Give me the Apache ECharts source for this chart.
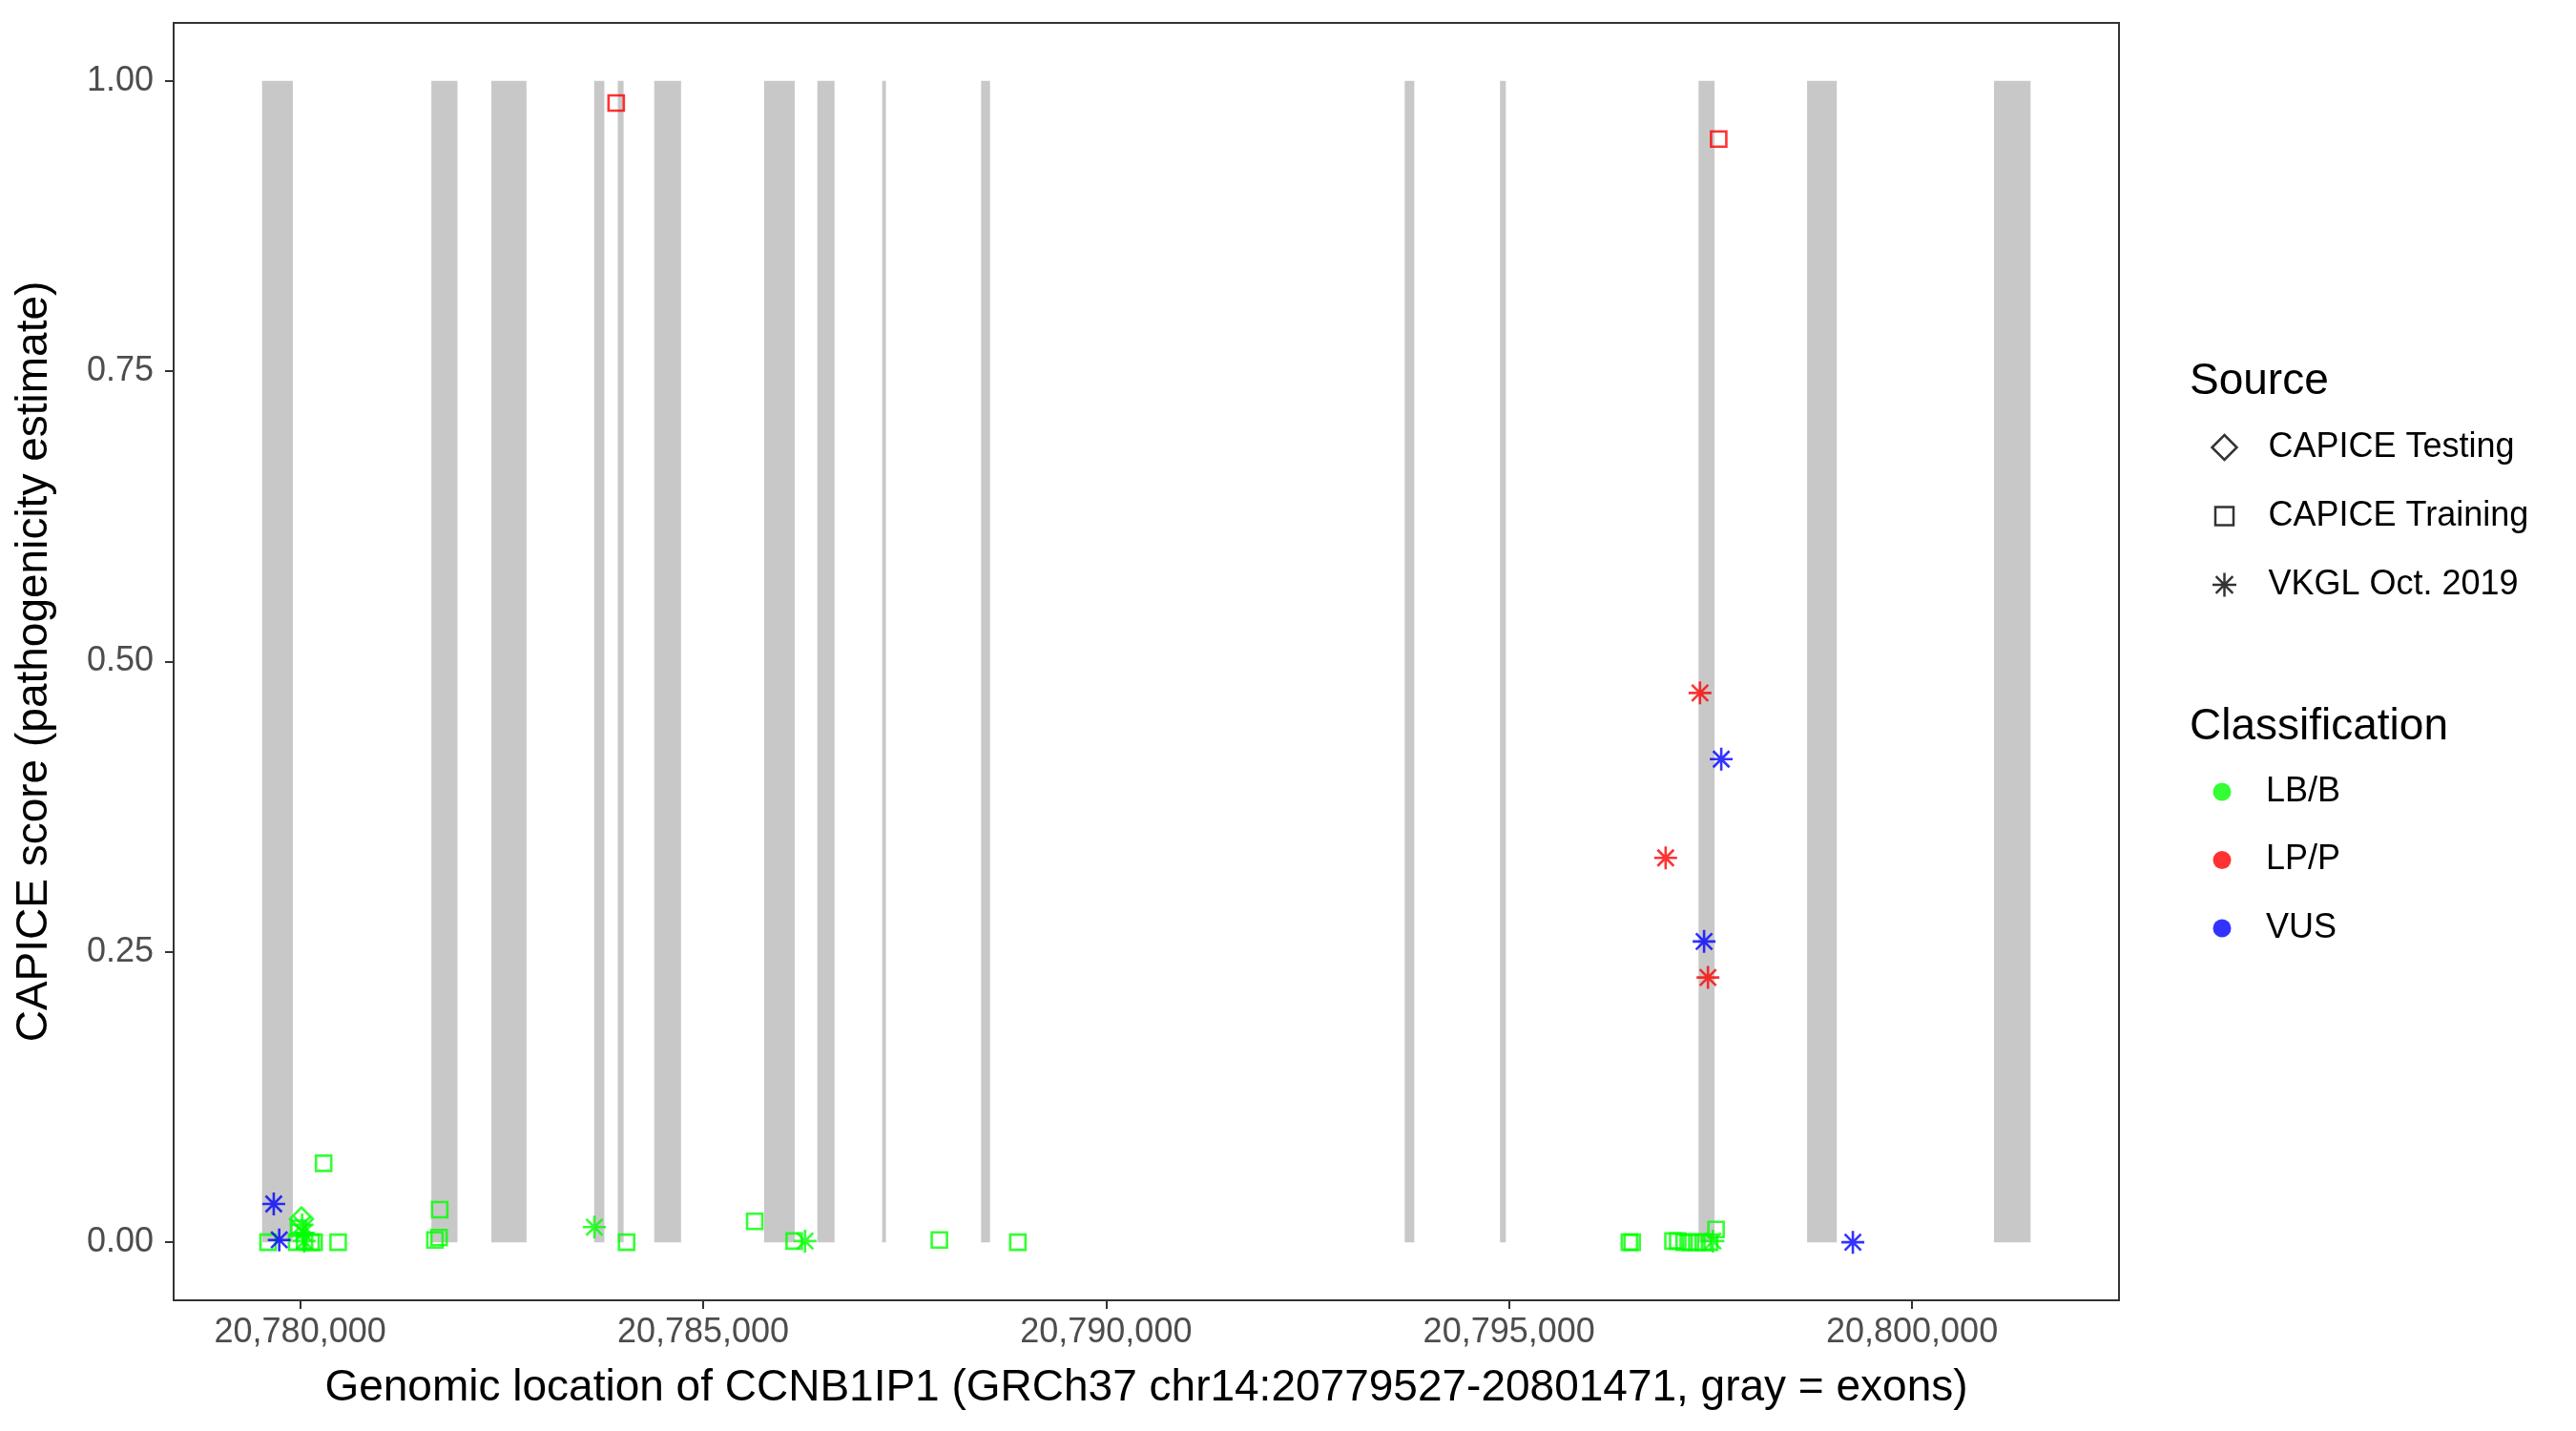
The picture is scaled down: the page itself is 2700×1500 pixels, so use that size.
<!DOCTYPE html>
<html><head><meta charset="utf-8">
<script src="https://cdn.jsdelivr.net/npm/echarts@6/dist/echarts.min.js"></script>
<style>html,body{margin:0;padding:0;background:#fff}#c{width:2700px;height:1500px}</style>
</head><body><div id="c"></div>
<script>
// ---- gene / exons ----
const geneStart = 20779527, geneEnd = 20801471;
const exonStart = [20779527, 20781628, 20782372, 20783648, 20783941, 20784393, 20785756, 20786417, 20787221, 20788449, 20793705, 20794888, 20797351, 20798698, 20801017];
const exonEnd   = [20779909, 20781952, 20782808, 20783774, 20784013, 20784726, 20786136, 20786630, 20787268, 20788560, 20793824, 20794960, 20797550, 20799066, 20801471];

// ---- CAPICE Testing (diamonds) ----
const testingPos   = [20780015];
const testingScore = [0.020];
const testingClass = ['LB/B'];

// ---- CAPICE Training (squares) ----
const trainingPos   = [20779601, 20780291, 20779956, 20779980, 20780054, 20780134, 20780173, 20780471, 20781672, 20781723, 20781731, 20784050, 20785640, 20786129, 20787931, 20788905, 20796493, 20796527, 20797034, 20797093, 20797172, 20797251, 20797330, 20797409, 20797488, 20797568, 20783921, 20797601];
const trainingScore = [0.000, 0.068, 0.000, 0.012, 0.001, 0.000, 0.000, 0.000, 0.002, 0.004, 0.028, 0.000, 0.018, 0.001, 0.002, 0.000, 0.000, 0.000, 0.001, 0.001, 0.000, 0.000, 0.000, 0.000, 0.000, 0.011, 0.981, 0.950];
const trainingClass = ['LB/B','LB/B','LB/B','LB/B','LB/B','LB/B','LB/B','LB/B','LB/B','LB/B','LB/B','LB/B','LB/B','LB/B','LB/B','LB/B','LB/B','LB/B','LB/B','LB/B','LB/B','LB/B','LB/B','LB/B','LB/B','LB/B','LP/P','LP/P'];

// ---- VKGL Oct. 2019 (asterisks) ----
const vkglPos   = [20780024, 20780039, 20780051, 20783651, 20786265, 20797529, 20797369, 20796943, 20797468, 20779672, 20779740, 20797633, 20797420, 20799266];
const vkglScore = [0.015, 0.008, 0.001, 0.013, 0.001, 0.001, 0.473, 0.331, 0.228, 0.033, 0.002, 0.416, 0.259, 0.000];
const vkglClass = ['LB/B','LB/B','LB/B','LB/B','LB/B','LB/B','LP/P','LP/P','LP/P','VUS','VUS','VUS','VUS','VUS'];

// ---- legends / ticks ----
const sourceNames = ['CAPICE Testing', 'CAPICE Training', 'VKGL Oct. 2019'];
const classNames  = ['LB/B', 'LP/P', 'VUS'];
const classColors = ['#00FF00', '#FF0000', '#0000FF'];
const xTicks = [20780000, 20785000, 20790000, 20795000, 20800000];
const yTicks = [0, 0.25, 0.5, 0.75, 1];

const FONT = '"Liberation Sans", Arial, Helvetica, sans-serif';
const colorOf = c => classColors[classNames.indexOf(c)];
const span = geneEnd - geneStart;
const xMin = geneStart - span * 0.05, xMax = geneEnd + span * 0.05;

const asteriskPath = 'path://M12,0L12,24M0,12L24,12M3.5,3.5L20.5,20.5M20.5,3.5L3.5,20.5';
const diamondPath  = 'path://M13,0L26,13L13,26L0,13Z';
const squarePath   = 'path://M0,0L18,0L18,18L0,18Z';

function makeData(pos, score, cls) {
  return pos.map((p, i) => ({ value: [p, score[i]], itemStyle: { borderColor: colorOf(cls[i]) } }));
}

const chart = echarts.init(document.getElementById('c'), null, { renderer: 'canvas' });

const baseScatter = {
  type: 'scatter', z: 3, animation: false,
  emphasis: { disabled: true },
  itemStyle: { color: 'none', borderWidth: 2.6 }
};

const ICON_CX = 2329;
const legendCommon = {
  orient: 'vertical', padding: 0, itemWidth: 82, selectedMode: false,
  textStyle: { fontSize: 36, color: '#000', fontFamily: FONT, lineHeight: 36 }
};
function mkLegend(top, size, extra) {
  return Object.assign({}, legendCommon, { top: top, itemHeight: size, left: ICON_CX - size / 2 }, extra);
}

const option = {
  backgroundColor: '#fff',
  animation: false,
  textStyle: { fontFamily: FONT },
  title: [
    { text: 'Source', left: 2295, top: 377, padding: 0, textStyle: { fontSize: 46, fontWeight: 'normal', color: '#000', fontFamily: FONT } },
    { text: 'Classification', left: 2295, top: 739, padding: 0, textStyle: { fontSize: 46, fontWeight: 'normal', color: '#000', fontFamily: FONT } }
  ],
  legend: [
    mkLegend(451, 26, { data: [{ name: sourceNames[0], icon: diamondPath, itemStyle: { color: 'none', borderColor: '#000', borderWidth: 2.5 } }] }),
    mkLegend(523, 19, { data: [{ name: sourceNames[1], icon: squarePath, itemStyle: { color: 'none', borderColor: '#000', borderWidth: 2.5 } }] }),
    mkLegend(595, 25, { data: [{ name: sourceNames[2], icon: asteriskPath, itemStyle: { color: 'none', borderColor: '#000', borderWidth: 2.5 } }] }),
    mkLegend(812, 19, { itemGap: 35.5,
      data: classNames.map((n, i) => ({ name: n, icon: 'circle', itemStyle: { color: classColors[i], borderWidth: 0 } })) })
  ],
  grid: { left: 182, top: 24, right: 479, bottom: 137, show: true, borderColor: '#333333', borderWidth: 2, backgroundColor: '#fff' },
  xAxis: {
    type: 'value', min: xMin, max: xMax,
    name: 'Genomic location of CCNB1IP1 (GRCh37 chr14:20779527-20801471, gray = exons)',
    nameLocation: 'middle', nameGap: 69,
    nameTextStyle: { fontSize: 46, color: '#000', fontFamily: FONT },
    axisLine: { show: true, onZero: false, lineStyle: { color: '#333333', width: 2 } },
    axisTick: { show: true, length: 9, lineStyle: { color: '#333333', width: 2 }, customValues: xTicks },
    axisLabel: { customValues: xTicks, fontSize: 36, color: '#4D4D4D', fontFamily: FONT, margin: 16,
      formatter: v => String(Math.round(v)).replace(/\B(?=(\d{3})+(?!\d))/g, ',') },
    splitLine: { show: false }
  },
  yAxis: {
    type: 'value', min: -0.05, max: 1.05,
    name: 'CAPICE score (pathogenicity estimate)',
    nameLocation: 'middle', nameGap: 123, nameRotate: 90,
    nameTextStyle: { fontSize: 46, color: '#000', fontFamily: FONT },
    axisLine: { show: true, onZero: false, lineStyle: { color: '#333333', width: 2 } },
    axisTick: { show: true, length: 9, lineStyle: { color: '#333333', width: 2 }, customValues: yTicks },
    axisLabel: { customValues: yTicks, fontSize: 36, color: '#4D4D4D', fontFamily: FONT, margin: 21,
      formatter: v => v.toFixed(2) },
    splitLine: { show: false }
  },
  series: [
    {
      type: 'custom', name: 'exons', z: 1, silent: true,
      encode: { x: [0, 1] },
      data: exonStart.map((s, i) => [s, exonEnd[i]]),
      renderItem: (params, api) => {
        const p0 = api.coord([api.value(0), 1]);
        const p1 = api.coord([api.value(1), 0]);
        return { type: 'rect', shape: { x: p0[0], y: p0[1], width: p1[0] - p0[0], height: p1[1] - p0[1] }, style: { fill: '#C8C8C8' } };
      }
    },
    Object.assign({}, baseScatter, { name: sourceNames[0], symbol: 'diamond', symbolSize: 24, data: makeData(testingPos, testingScore, testingClass) }),
    Object.assign({}, baseScatter, { name: sourceNames[1], symbol: 'rect', symbolSize: 16, data: makeData(trainingPos, trainingScore, trainingClass) }),
    Object.assign({}, baseScatter, { name: sourceNames[2], symbol: asteriskPath, symbolSize: 24, data: makeData(vkglPos, vkglScore, vkglClass) }),
    ...classNames.map((n, i) => ({ type: 'scatter', name: n, data: [], itemStyle: { color: classColors[i] } }))
  ]
};
chart.setOption(option);
</script></body></html>
